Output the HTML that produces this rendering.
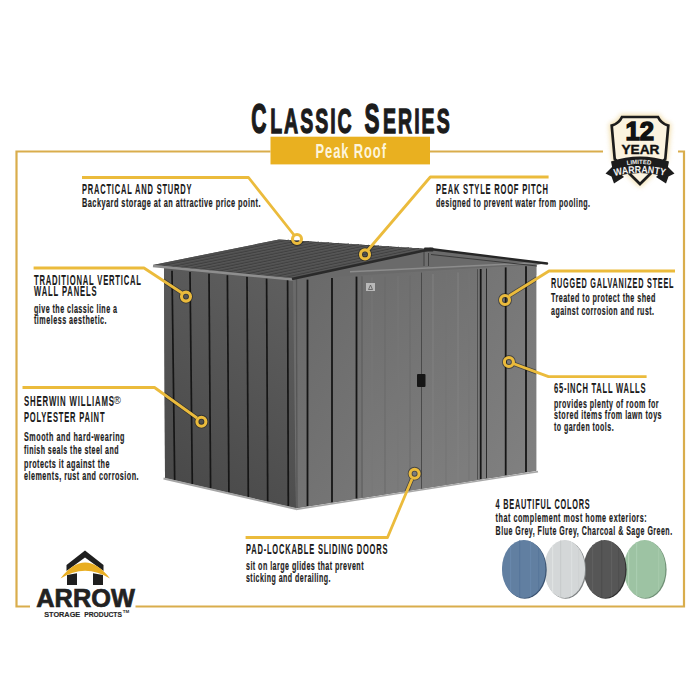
<!DOCTYPE html>
<html><head><meta charset="utf-8">
<style>
html,body{margin:0;padding:0;background:#fff;width:700px;height:700px;overflow:hidden}
svg{display:block}
text{font-family:"Liberation Sans",sans-serif}
.h{font-weight:bold;font-size:13.8px;fill:#1a1a1a;stroke:#1a1a1a;stroke-width:0.1px}
.b{font-weight:bold;font-size:12.2px;fill:#1c1c1c;stroke:#1c1c1c;stroke-width:0.18px}
.t1{font-weight:bold;font-size:42.5px;fill:#1c1c1c;stroke:#1c1c1c;stroke-width:1.6px}
.t2{font-weight:bold;font-size:34.7px;fill:#1c1c1c;stroke:#1c1c1c;stroke-width:1.3px}
.pk{font-weight:bold;font-size:20px;fill:#fdf5dc}
</style></head><body>
<svg width="700" height="700" viewBox="0 0 700 700">
<rect width="700" height="700" fill="#fff"/>
<g stroke="#d9ad4c" stroke-width="2.2" fill="none">
<path d="M270.5,151.5 H16.5 V606.5 H30"/>
<path d="M430,151.5 H603"/>
<path d="M678,151.5 H684 V606.5 H135.5"/>
</g>
<rect x="270.5" y="136.7" width="159.5" height="27.7" fill="#e9b020"/>

<g id="shed"><defs>
<linearGradient id="gL" gradientUnits="userSpaceOnUse" x1="165" y1="470" x2="290" y2="290"><stop offset="0" stop-color="#4a4a4a"/><stop offset="1" stop-color="#5e5e5e"/></linearGradient>
<linearGradient id="gF" gradientUnits="userSpaceOnUse" x1="300" y1="300" x2="537" y2="460"><stop offset="0" stop-color="#6a6a6a"/><stop offset="1" stop-color="#808080"/></linearGradient>
<linearGradient id="gD" gradientUnits="userSpaceOnUse" x1="362" y1="300" x2="478" y2="460"><stop offset="0" stop-color="#6f6f6f"/><stop offset="1" stop-color="#7d7d7d"/></linearGradient>
<linearGradient id="gR" gradientUnits="userSpaceOnUse" x1="160" y1="265" x2="420" y2="245"><stop offset="0" stop-color="#4c4c4c"/><stop offset="1" stop-color="#545454"/></linearGradient>
</defs>
<polygon points="153,265 279,239.5 429,249 547,263.5 536.2,264.5 536.2,470.8 296,508.3 165,478 164,268" fill="#5a5a5a"/>
<polygon points="292,279 429,249 547,263.5 536.2,264.5 536.2,275 293,282" fill="#6a6a6a"/>
<polygon points="164,268 293,279.5 296,508 165,478" fill="url(#gL)"/>
<line x1="172" y1="270.7" x2="174.7" y2="480.2" stroke="#161616" stroke-width="1.7"/>
<line x1="190" y1="272.1" x2="192.3" y2="484.3" stroke="#161616" stroke-width="1.7"/>
<line x1="209" y1="273.7" x2="210.6" y2="488.4" stroke="#161616" stroke-width="1.7"/>
<line x1="227.4" y1="275.2" x2="228.9" y2="492.6" stroke="#161616" stroke-width="1.7"/>
<line x1="247" y1="276.8" x2="248.3" y2="497.1" stroke="#161616" stroke-width="1.7"/>
<line x1="266.6" y1="278.4" x2="267.7" y2="501.5" stroke="#161616" stroke-width="1.7"/>
<line x1="287.6" y1="280.1" x2="288.3" y2="506.2" stroke="#161616" stroke-width="1.7"/>
<path d="M163.5,478.5 L296,509" stroke="#a5a5a5" stroke-width="1.8" fill="none"/>
<polygon points="293,279.5 536.2,264.5 536.2,470.8 296,508.3" fill="url(#gF)"/>
<line x1="296.5" y1="279.3" x2="297" y2="508" stroke="#555" stroke-width="1.2"/>
<polygon points="362,275.8 478,268.6 478,479.9 363,497.8" fill="url(#gD)"/>
<line x1="372" y1="277.6" x2="372" y2="495.4" stroke="#787878" stroke-width="1.2" opacity="0.8"/>
<line x1="385" y1="276.8" x2="385" y2="493.4" stroke="#6a6a6a" stroke-width="1.2" opacity="0.8"/>
<line x1="398" y1="276.0" x2="398" y2="491.4" stroke="#777" stroke-width="1.2" opacity="0.8"/>
<line x1="410" y1="275.3" x2="410" y2="489.5" stroke="#6b6b6b" stroke-width="1.2" opacity="0.8"/>
<line x1="433" y1="273.9" x2="433" y2="485.9" stroke="#828282" stroke-width="1.2" opacity="0.8"/>
<line x1="446" y1="273.1" x2="446" y2="483.9" stroke="#747474" stroke-width="1.2" opacity="0.8"/>
<line x1="458" y1="272.4" x2="458" y2="482.0" stroke="#838383" stroke-width="1.2" opacity="0.8"/>
<line x1="469" y1="271.7" x2="469" y2="480.3" stroke="#767676" stroke-width="1.2" opacity="0.8"/>
<line x1="421.5" y1="272.6" x2="421.5" y2="488.7" stroke="#4a4a4a" stroke-width="1"/>
<line x1="307.5" y1="279.6" x2="307.5" y2="506.0" stroke="#161616" stroke-width="1.8"/>
<line x1="332" y1="278.1" x2="332" y2="502.2" stroke="#161616" stroke-width="1.8"/>
<line x1="356.5" y1="276.6" x2="356.5" y2="498.4" stroke="#161616" stroke-width="1.8"/>
<line x1="362" y1="276.3" x2="362" y2="497.5" stroke="#555" stroke-width="0.8"/>
<line x1="477.5" y1="269.2" x2="477.5" y2="479.5" stroke="#444" stroke-width="0.8"/>
<line x1="480.7" y1="269.0" x2="480.7" y2="479.0" stroke="#161616" stroke-width="1.8"/>
<line x1="486.5" y1="268.6" x2="486.5" y2="478.1" stroke="#2a2a2a" stroke-width="1.0"/>
<line x1="505.7" y1="267.4" x2="505.7" y2="475.1" stroke="#161616" stroke-width="1.8"/>
<line x1="526" y1="266.2" x2="526" y2="471.9" stroke="#161616" stroke-width="1.8"/>
<rect x="417" y="374" width="8.5" height="13" fill="#161616" rx="1"/>
<rect x="366" y="283" width="9" height="8" fill="#b9b9b9"/>
<path d="M368.5,289.5 L370.5,285 L372.5,289.5Z" fill="none" stroke="#555" stroke-width="0.8"/>
<path d="M296,509.4 L538,471.6" stroke="#a8a8a8" stroke-width="1.6" fill="none"/>
<path d="M350,271.8 L537,262.8" stroke="#8c8c8c" stroke-width="1.5" fill="none"/>
<path d="M431,254.5 L537,266" stroke="#3a3a3a" stroke-width="1" fill="none"/>
<rect x="423.5" y="250" width="5" height="16.5" fill="#6e6e6e"/>
<path d="M424,251 V266 M428.5,253 V266" stroke="#3a3a3a" stroke-width="0.9"/>
<path d="M430,249 L547,263.5" stroke="#262626" stroke-width="2.4" fill="none" stroke-linecap="round"/>
<polygon points="153,265 292,279 429,249 279,239.5" fill="url(#gR)"/>
<line x1="162.3" y1="265.9" x2="289.0" y2="240.1" stroke="#3c3c3c" stroke-width="0.9"/>
<line x1="164.8" y1="266.2" x2="291.5" y2="240.3" stroke="#5c5c5c" stroke-width="0.7"/>
<line x1="171.5" y1="266.9" x2="299.0" y2="240.8" stroke="#3c3c3c" stroke-width="0.9"/>
<line x1="174.0" y1="267.1" x2="301.5" y2="241.0" stroke="#5c5c5c" stroke-width="0.7"/>
<line x1="180.8" y1="267.8" x2="309.0" y2="241.4" stroke="#3c3c3c" stroke-width="0.9"/>
<line x1="183.3" y1="268.1" x2="311.5" y2="241.6" stroke="#5c5c5c" stroke-width="0.7"/>
<line x1="190.1" y1="268.7" x2="319.0" y2="242.0" stroke="#3c3c3c" stroke-width="0.9"/>
<line x1="192.6" y1="269.0" x2="321.5" y2="242.2" stroke="#5c5c5c" stroke-width="0.7"/>
<line x1="199.3" y1="269.7" x2="329.0" y2="242.7" stroke="#3c3c3c" stroke-width="0.9"/>
<line x1="201.8" y1="269.9" x2="331.5" y2="242.9" stroke="#5c5c5c" stroke-width="0.7"/>
<line x1="208.6" y1="270.6" x2="339.0" y2="243.3" stroke="#3c3c3c" stroke-width="0.9"/>
<line x1="211.1" y1="270.9" x2="341.5" y2="243.5" stroke="#5c5c5c" stroke-width="0.7"/>
<line x1="217.9" y1="271.5" x2="349.0" y2="243.9" stroke="#3c3c3c" stroke-width="0.9"/>
<line x1="220.4" y1="271.8" x2="351.5" y2="244.1" stroke="#5c5c5c" stroke-width="0.7"/>
<line x1="227.1" y1="272.5" x2="359.0" y2="244.6" stroke="#3c3c3c" stroke-width="0.9"/>
<line x1="229.6" y1="272.7" x2="361.5" y2="244.8" stroke="#5c5c5c" stroke-width="0.7"/>
<line x1="236.4" y1="273.4" x2="369.0" y2="245.2" stroke="#3c3c3c" stroke-width="0.9"/>
<line x1="238.9" y1="273.6" x2="371.5" y2="245.4" stroke="#5c5c5c" stroke-width="0.7"/>
<line x1="245.7" y1="274.3" x2="379.0" y2="245.8" stroke="#3c3c3c" stroke-width="0.9"/>
<line x1="248.2" y1="274.6" x2="381.5" y2="246.0" stroke="#5c5c5c" stroke-width="0.7"/>
<line x1="254.9" y1="275.3" x2="389.0" y2="246.5" stroke="#3c3c3c" stroke-width="0.9"/>
<line x1="257.4" y1="275.5" x2="391.5" y2="246.7" stroke="#5c5c5c" stroke-width="0.7"/>
<line x1="264.2" y1="276.2" x2="399.0" y2="247.1" stroke="#3c3c3c" stroke-width="0.9"/>
<line x1="266.7" y1="276.4" x2="401.5" y2="247.3" stroke="#5c5c5c" stroke-width="0.7"/>
<line x1="273.5" y1="277.1" x2="409.0" y2="247.7" stroke="#3c3c3c" stroke-width="0.9"/>
<line x1="276.0" y1="277.4" x2="411.5" y2="247.9" stroke="#5c5c5c" stroke-width="0.7"/>
<line x1="282.7" y1="278.1" x2="419.0" y2="248.4" stroke="#3c3c3c" stroke-width="0.9"/>
<line x1="285.2" y1="278.3" x2="421.5" y2="248.6" stroke="#5c5c5c" stroke-width="0.7"/>
<path d="M153,266 L293,279.5" stroke="#8e8e8e" stroke-width="2.4" fill="none"/>
<path d="M292,279 L429,249.5" stroke="#2a2a2a" stroke-width="2.6" fill="none"/>
<rect x="424" y="247.5" width="9.5" height="4" fill="#2a2a2a" rx="1"/></g>
<defs><clipPath id="shc"><polygon points="153,265 279,239.5 429,249 547,263.5 536.2,264.5 536.2,470.8 296,508.3 165,478 164,268"/></clipPath></defs>
<g clip-path="url(#shc)" stroke="#1a1a1a" fill="none" opacity="0.55">
<path d="M82,177.5 H248.5 L294,235" stroke-width="4.4" stroke-linejoin="round"/>
<path d="M33.6,268 H144 L182,293" stroke-width="4.4" stroke-linejoin="round"/>
<path d="M22.5,387.5 H154.5 L197,418" stroke-width="4.4" stroke-linejoin="round"/>
<path d="M548.6,177 H430.3 L368,250" stroke-width="4.4" stroke-linejoin="round"/>
<path d="M675,271 H549 L509,296" stroke-width="4.4" stroke-linejoin="round"/>
<path d="M646.6,376.6 H548.5 L513,363.5" stroke-width="4.4" stroke-linejoin="round"/>
<path d="M245.6,537.5 H387.5 L412,479" stroke-width="4.4" stroke-linejoin="round"/>
<circle cx="297" cy="239" r="4.5" stroke-width="4.8"/>
<circle cx="365" cy="254.4" r="4.5" stroke-width="4.8"/>
<circle cx="186" cy="296.6" r="4.5" stroke-width="4.8"/>
<circle cx="201.4" cy="421.7" r="4.5" stroke-width="4.8"/>
<circle cx="505" cy="300" r="4.5" stroke-width="4.8"/>
<circle cx="508.9" cy="362" r="4.5" stroke-width="4.8"/>
<circle cx="414.6" cy="473.7" r="4.5" stroke-width="4.8"/>
</g>
<g stroke="#ebbb3c" stroke-width="2.8" fill="none" stroke-linejoin="round">
<path d="M82,177.5 H248.5 L294,235"/>
<path d="M33.6,268 H144 L182,293"/>
<path d="M22.5,387.5 H154.5 L197,418"/>
<path d="M548.6,177 H430.3 L368,250"/>
<path d="M675,271 H549 L509,296"/>
<path d="M646.6,376.6 H548.5 L513,363.5"/>
<path d="M245.6,537.5 H387.5 L412,479"/>
</g>
<g stroke="#ebbb3c" stroke-width="3.1" fill="none">
<circle cx="297" cy="239" r="4.5"/>
<circle cx="365" cy="254.4" r="4.5"/>
<circle cx="186" cy="296.6" r="4.5"/>
<circle cx="201.4" cy="421.7" r="4.5"/>
<circle cx="505" cy="300" r="4.5"/>
<circle cx="508.9" cy="362" r="4.5"/>
<circle cx="414.6" cy="473.7" r="4.5"/>
</g>
<defs>
<clipPath id="o1"><ellipse cx="523.8" cy="569" rx="21.9" ry="29"/></clipPath>
<clipPath id="o2"><ellipse cx="564.6" cy="569" rx="20.5" ry="29"/></clipPath>
<clipPath id="o3"><ellipse cx="604.6" cy="569" rx="21" ry="29"/></clipPath>
<clipPath id="o4"><ellipse cx="644.6" cy="569" rx="21" ry="29"/></clipPath>
</defs>
<ellipse cx="645.6" cy="569.8" rx="21" ry="29" fill="#6f8f75"/>
<g clip-path="url(#o4)"><rect x="623.6" y="540" width="42" height="58" fill="#9dc3a3"/>
<rect x="628" y="540" width="1.2" height="58" fill="#b2d3b6"/>
<rect x="636" y="540" width="1.2" height="58" fill="#a9cdb0"/>
<rect x="658" y="540" width="1.2" height="58" fill="#a5c9aa"/>
</g>
<ellipse cx="605.6" cy="569.8" rx="21" ry="29" fill="#2e2e2e"/>
<g clip-path="url(#o3)"><rect x="583.6" y="540" width="42" height="58" fill="#565656"/>
<rect x="592" y="540" width="1.2" height="58" fill="#5f5f5f"/>
<rect x="601" y="540" width="1.2" height="58" fill="#4e4e4e"/>
<rect x="611" y="540" width="1.2" height="58" fill="#606060"/>
<rect x="618" y="540" width="1.2" height="58" fill="#4f4f4f"/>
</g>
<ellipse cx="565.6" cy="569.8" rx="20.5" ry="29" fill="#7d8182"/>
<g clip-path="url(#o2)"><rect x="544.1" y="540" width="41.0" height="58" fill="#d4d7d8"/>
<rect x="552" y="540" width="1.2" height="58" fill="#dfe2e2"/>
<rect x="560" y="540" width="1.2" height="58" fill="#c9cccd"/>
<rect x="571" y="540" width="1.2" height="58" fill="#dcdfe0"/>
<rect x="578" y="540" width="1.2" height="58" fill="#cfd2d3"/>
</g>
<ellipse cx="524.8" cy="569.8" rx="21.9" ry="29" fill="#3a5270"/>
<g clip-path="url(#o1)"><rect x="501.9" y="540" width="43.8" height="58" fill="#617fa1"/>
<rect x="510" y="540" width="1.2" height="58" fill="#6887ab"/>
<rect x="519" y="540" width="1.2" height="58" fill="#57769b"/>
<rect x="530" y="540" width="1.2" height="58" fill="#6786aa"/>
<rect x="538" y="540" width="1.2" height="58" fill="#58779b"/>
</g>
<g id="logo">
<path d="M85,550.5 L103.5,565 L103.5,571 L85,557.5 L66.5,571 L66.5,565 Z" fill="#1f1f1f"/>
<path d="M67,575 L77,573.3 L77,585 L67,585 Z M93,573.3 L103,575 L103,585 L93,585 Z" fill="#1f1f1f"/>
<path d="M60.5,578.5 Q85,546.7 110,578.5 Q85,562.9 60.5,578.5 Z" fill="#e9ae22"/>
<text x="36.3" y="606.7" font-size="25.8" font-weight="bold" fill="#222" stroke="#222" stroke-width="0.7" textLength="98.5" lengthAdjust="spacingAndGlyphs">ARROW</text>
<text x="44.2" y="616.5" font-size="7.8" font-weight="bold" fill="#262626" stroke="#262626" stroke-width="0.15" textLength="36" lengthAdjust="spacingAndGlyphs">STORAGE</text><text x="84.2" y="616.5" font-size="7.8" font-weight="bold" fill="#262626" stroke="#262626" stroke-width="0.15" textLength="37.8" lengthAdjust="spacingAndGlyphs">PRODUCTS</text>
<text x="122.8" y="612.8" font-size="3.6" font-weight="bold" fill="#2a2a2a" textLength="6.5" lengthAdjust="spacingAndGlyphs">TM</text>
</g>
<defs>
<filter id="glow" x="-30%" y="-30%" width="160%" height="160%"><feGaussianBlur stdDeviation="2.5"/></filter>
<path id="arcW" d="M614.5,176 Q640,169.6 666.5,176"/>
<path id="arcL" d="M627,165 Q640,162.8 652,165"/>
</defs>
<g id="badge">
<path d="M622,117 L658,117 Q661,123.5 668.3,125.6 L665.3,159 L640,184 L614.7,159 L611.7,125.6 Q619,123.5 622,117 Z" fill="#ecd08a" stroke="#ecd08a" stroke-width="5" filter="url(#glow)" opacity="0.75"/>
<path d="M622,117 L658,117 Q661,123.5 668.3,125.6 L665.3,159 L640,184 L614.7,159 L611.7,125.6 Q619,123.5 622,117 Z" fill="#fbf3df" stroke="#1c1c1c" stroke-width="2.7"/>
<text x="625.5" y="140.2" font-size="25" font-weight="bold" fill="#111" stroke="#111" stroke-width="1.4" textLength="28.5" lengthAdjust="spacingAndGlyphs">12</text>
<text x="621.5" y="153.7" font-size="13" font-weight="bold" fill="#111" stroke="#111" stroke-width="0.4" textLength="38" lengthAdjust="spacingAndGlyphs">YEAR</text>
<path d="M613,166 L605.5,173.5 L611.5,176.5 L614,183.5 L624,177 Z" fill="#1c1c1c"/>
<path d="M667,166 L674.5,173.5 L668.5,176.5 L666,183.5 L656,177 Z" fill="#1c1c1c"/>
<path d="M611,161.5 Q640,151.5 669,161.5 L666,176.5 Q640,169.5 614,176.5 Z" fill="#1c1c1c"/>
<text font-size="6.2" font-weight="bold" fill="#eeeeee"><textPath href="#arcL" textLength="24" lengthAdjust="spacingAndGlyphs">LIMITED</textPath></text>
<text font-size="10" font-weight="bold" fill="#f4f4f4"><textPath href="#arcW" textLength="51" lengthAdjust="spacingAndGlyphs">WARRANTY</textPath></text>
</g>
<text class="t1" transform="scale(0.4960,1)" x="506.64" y="133.4" textLength="31.65" lengthAdjust="spacing">C</text>
<text class="t2" transform="scale(0.5638,1)" x="479.23" y="133.4" textLength="144.55" lengthAdjust="spacing">LASSIC</text>
<text class="t1" transform="scale(0.5302,1)" x="687.53" y="133.4" textLength="29.24" lengthAdjust="spacing">S</text>
<text class="t2" transform="scale(0.5638,1)" x="679.33" y="133.4" textLength="118.31" lengthAdjust="spacing">ERIES</text>
<text class="pk" transform="scale(0.6487,1)" x="486.36" y="158.4" textLength="108.68" lengthAdjust="spacing">Peak Roof</text>
<text class="h" transform="scale(0.5436,1)" x="150.85" y="194" textLength="201.44" lengthAdjust="spacing">PRACTICAL AND STURDY</text>
<text class="b" transform="scale(0.6023,1)" x="136.13" y="207.5" textLength="296.34" lengthAdjust="spacing">Backyard storage at an attractive price point.</text>
<text class="h" transform="scale(0.5541,1)" x="61.36" y="284.6" textLength="193.11" lengthAdjust="spacing">TRADITIONAL VERTICAL</text>
<text class="h" transform="scale(0.5515,1)" x="61.64" y="296.2" textLength="113.50" lengthAdjust="spacing">WALL PANELS</text>
<text class="b" transform="scale(0.5859,1)" x="58.03" y="313.2" textLength="141.65" lengthAdjust="spacing">give the classic line a</text>
<text class="b" transform="scale(0.5894,1)" x="57.68" y="323.8" textLength="123.17" lengthAdjust="spacing">timeless aesthetic.</text>
<text class="h" transform="scale(0.5652,1)" x="42.47" y="406.4" textLength="159.25" lengthAdjust="spacing">SHERWIN WILLIAMS</text>
<text class="h" transform="scale(0.5473,1)" x="43.85" y="422" textLength="147.09" lengthAdjust="spacing">POLYESTER PAINT</text>
<text class="b" transform="scale(0.5883,1)" x="40.79" y="441" textLength="170.83" lengthAdjust="spacing">Smooth and hard-wearing</text>
<text class="b" transform="scale(0.5764,1)" x="41.64" y="454.4" textLength="163.96" lengthAdjust="spacing">finish seals the steel and</text>
<text class="b" transform="scale(0.5941,1)" x="40.40" y="467.6" textLength="143.91" lengthAdjust="spacing">protects it against the</text>
<text class="b" transform="scale(0.5909,1)" x="40.62" y="480.5" textLength="193.95" lengthAdjust="spacing">elements, rust and corrosion.</text>
<text class="h" transform="scale(0.5487,1)" x="794.63" y="194" textLength="204.12" lengthAdjust="spacing">PEAK STYLE ROOF PITCH</text>
<text class="b" transform="scale(0.5835,1)" x="747.25" y="207.5" textLength="263.94" lengthAdjust="spacing">designed to prevent water from pooling.</text>
<text class="h" transform="scale(0.5259,1)" x="1047.75" y="288.5" textLength="232.94" lengthAdjust="spacing">RUGGED GALVANIZED STEEL</text>
<text class="b" transform="scale(0.5878,1)" x="937.33" y="302" textLength="177.77" lengthAdjust="spacing">Treated to protect the shed</text>
<text class="b" transform="scale(0.5769,1)" x="955.16" y="314.6" textLength="178.55" lengthAdjust="spacing">against corrosion and rust.</text>
<text class="h" transform="scale(0.5480,1)" x="1010.94" y="393.5" textLength="166.97" lengthAdjust="spacing">65-INCH TALL WALLS</text>
<text class="b" transform="scale(0.5809,1)" x="953.67" y="408.4" textLength="180.06" lengthAdjust="spacing">provides plenty of room for</text>
<text class="b" transform="scale(0.5850,1)" x="947.01" y="419.5" textLength="183.93" lengthAdjust="spacing">stored items from lawn toys</text>
<text class="b" transform="scale(0.5738,1)" x="965.51" y="430.8" textLength="103.87" lengthAdjust="spacing">to garden tools.</text>
<text class="h" transform="scale(0.5443,1)" x="451.94" y="554" textLength="259.96" lengthAdjust="spacing">PAD-LOCKABLE SLIDING DOORS</text>
<text class="b" transform="scale(0.5850,1)" x="420.54" y="569.6" textLength="200.87" lengthAdjust="spacing">sit on large glides that prevent</text>
<text class="b" transform="scale(0.5779,1)" x="425.68" y="582.3" textLength="146.22" lengthAdjust="spacing">sticking and derailing.</text>
<text class="h" transform="scale(0.5308,1)" x="933.68" y="508.6" textLength="177.09" lengthAdjust="spacing">4 BEAUTIFUL COLORS</text>
<text class="b" transform="scale(0.5910,1)" x="838.60" y="521.8" textLength="255.50" lengthAdjust="spacing">that complement most home exteriors:</text>
<text class="b" transform="scale(0.5786,1)" x="856.59" y="535.2" textLength="305.06" lengthAdjust="spacing">Blue Grey, Flute Grey, Charcoal &amp; Sage Green.</text>
<text x="113.6" y="403.6" font-size="10" fill="#1c1c1c">®</text>
</svg>
</body></html>
